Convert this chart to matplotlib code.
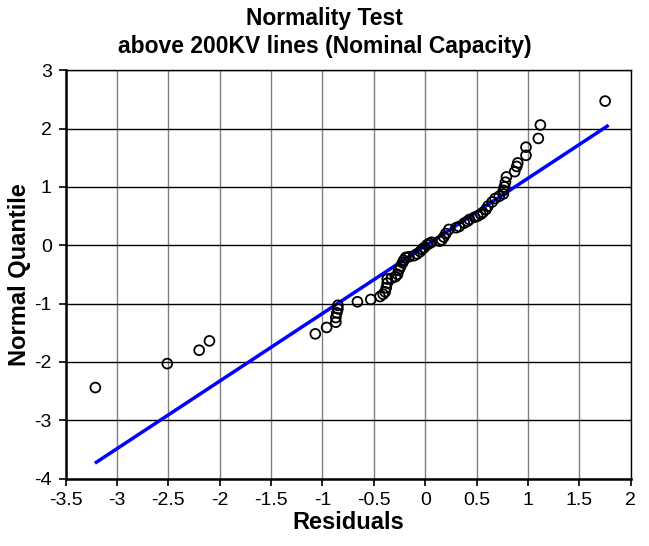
import numpy as np
import matplotlib
matplotlib.use("Agg")
import matplotlib.pyplot as plt

plt.rcParams["font.family"] = ["Liberation Sans", "DejaVu Sans"]
plt.rcParams["axes.unicode_minus"] = False

# residuals vs normal quantile
residuals = [-3.21, -2.51, -2.20, -2.10, -1.07, -0.96, -0.87, -0.87, -0.86, -0.85,
             -0.85, -0.66, -0.53, -0.44, -0.41, -0.39, -0.38, -0.37, -0.37, -0.33,
             -0.29, -0.27, -0.26, -0.25, -0.24, -0.22, -0.21, -0.19, -0.16, -0.11,
             -0.08, -0.05, -0.03, -0.01, 0.02, 0.04, 0.06, 0.14, 0.16, 0.18,
             0.20, 0.23, 0.30, 0.33, 0.38, 0.41, 0.43, 0.48, 0.51, 0.54,
             0.56, 0.59, 0.61, 0.65, 0.68, 0.72, 0.76, 0.76, 0.77, 0.78,
             0.79, 0.87, 0.89, 0.90, 0.98, 0.98, 1.10, 1.12, 1.75]
quantiles = [-2.44, -2.03, -1.80, -1.64, -1.52, -1.41, -1.32, -1.24, -1.16, -1.09,
             -1.03, -0.97, -0.93, -0.88, -0.84, -0.80, -0.73, -0.65, -0.58, -0.57,
             -0.54, -0.50, -0.43, -0.40, -0.36, -0.30, -0.26, -0.21, -0.20, -0.18,
             -0.15, -0.11, -0.07, -0.04, 0.01, 0.03, 0.05, 0.07, 0.09, 0.14,
             0.20, 0.27, 0.30, 0.32, 0.38, 0.41, 0.44, 0.48, 0.50, 0.53,
             0.56, 0.61, 0.67, 0.74, 0.80, 0.84, 0.88, 0.94, 1.00, 1.08,
             1.17, 1.26, 1.35, 1.41, 1.54, 1.68, 1.83, 2.06, 2.47]

# reference line end points
line_x = [-3.20, 1.77]
line_y = [-3.72, 2.04]

xticks = [-3.5, -3, -2.5, -2, -1.5, -1, -0.5, 0, 0.5, 1, 1.5, 2]
xlabels = ["-3.5", "-3", "-2.5", "-2", "-1.5", "-1", "-0.5", "0", "0.5", "1", "1.5", "2"]
yticks = [-4, -3, -2, -1, 0, 1, 2, 3]

fig = plt.figure(figsize=(6.49, 5.46), dpi=100)
ax = fig.add_axes([0.101, 0.1235, 0.871, 0.748])

ax.plot(line_x, line_y, color="#0000ff", lw=2.5, zorder=2)
ax.scatter(residuals, quantiles, s=50, facecolors="none", edgecolors="black",
           linewidths=1.3, zorder=3)

ax.set_xlim(-3.5, 2)
ax.set_ylim(-4, 3)
ax.set_xticks(xticks)
ax.set_xticklabels(xlabels)
ax.set_yticks(yticks)

for x in xticks:
    ax.axvline(x, color="#808080", lw=1, zorder=1)
for y in yticks:
    ax.axhline(y, color="black", lw=1, zorder=1)

ax.tick_params(direction="out", length=5, width=1.2, labelsize=14, pad=5)
ax.spines["left"].set_linewidth(1.8)
ax.spines["bottom"].set_linewidth(1.8)
ax.spines["top"].set_linewidth(1)
ax.spines["right"].set_linewidth(1)

ax.set_xlabel("Residuals", fontsize=17, fontweight="bold", labelpad=1)
ax.set_ylabel("Normal Quantile", fontsize=17, fontweight="bold", labelpad=2)

# title is centred on the figure, not the axes
fig.text(0.5, 1 - 19 / 546, "Normality Test", ha="center", va="center",
         fontsize=16.5, fontweight="bold")
fig.text(0.5, 1 - 47 / 546, "above 200KV lines (Nominal Capacity)", ha="center",
         va="center", fontsize=16.5, fontweight="bold")

fig.savefig("out.png", dpi=100)
